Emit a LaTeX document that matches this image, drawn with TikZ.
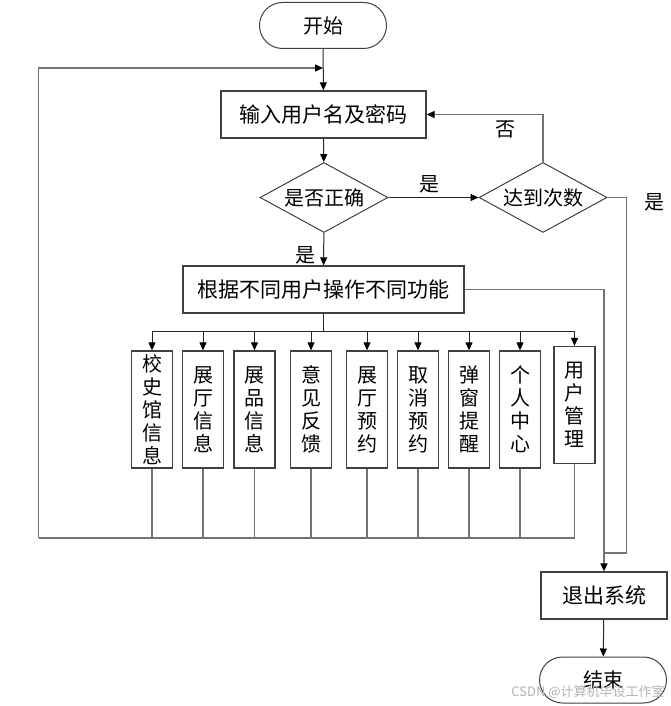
\documentclass[tikz,border=0pt]{standalone}
\usepackage{fontspec}
\setmainfont{Noto Sans CJK SC}
\usetikzlibrary{arrows.meta,shapes.geometric,shapes.misc}

\begin{document}
\begin{tikzpicture}[x=1pt,y=-1pt,
        font=\fontsize{20}{23}\selectfont,
        line/.style={draw=black!85,line width=1pt},
        arr/.style={line,-{Triangle[length=8pt,width=7pt,color=black]}},
        back/.style={draw=black!55,line width=1.4pt},
        backarr/.style={back,-{Triangle[length=8pt,width=7pt,color=black]}},
        term/.style={draw=black!75,line width=1pt,rounded rectangle,
            minimum width=127pt,minimum height=46pt,inner sep=0pt},
        proc/.style={draw=black!75,line width=1.3pt,rectangle,
            minimum height=47pt,inner sep=0pt},
        cond/.style={draw=black!75,line width=1pt,diamond,aspect=1.8,
            minimum width=128pt,minimum height=70pt,inner sep=0pt},
        func/.style={draw=black!75,line width=1.3pt,rectangle,
            minimum width=41pt,minimum height=117pt,inner sep=0pt,align=center}]

    \useasboundingbox (0,0) rectangle (671,706);

    % main column
    \node[term] (start) at (323,25.5) {开始};
    \node[proc,minimum width=205pt,font=\fontsize{21}{23}\selectfont] (input) at (323.5,114.5) {输入用户名及密码};
    \node[cond] (check) at (324,197.5) {是否正确};
    \node[cond] (count) at (543,197.5) {达到次数};
    \node[proc,minimum width=281pt,font=\fontsize{21}{23}\selectfont] (role) at (323.5,289.5) {根据不同用户操作不同功能};

    % function boxes
    \foreach \i/\x/\y/\txt in {1/152/409.5/校\\史\\馆\\信\\息,
                               2/203/409.5/展\\厅\\信\\息,
                               3/254.5/409.5/展\\品\\信\\息,
                               4/311/409.5/意\\见\\反\\馈,
                               5/367/409.5/展\\厅\\预\\约,
                               6/418/409.5/取\\消\\预\\约,
                               7/469/409.5/弹\\窗\\提\\醒,
                               8/520/409.5/个\\人\\中\\心,
                               9/574.5/405/用\\户\\管\\理}
        \node[func] (f\i) at (\x,\y) {\txt};

    \node[proc,minimum width=126pt,font=\fontsize{21}{23}\selectfont] (quit) at (604,595.5) {退出系统};
    \node[term] (stop) at (603,680) {结束};

    \coordinate (merge) at (323,68);
    \coordinate (fork) at (323.5,331);
    \coordinate (bus) at (38.5,538);
    \coordinate (join) at (604,553);

    % connectors
    \draw[arr] (start) -- (input);
    \draw[arr] (input) -- (check);
    \draw[arr] (check) -- node[pos=0.45,above=1pt] (yes1) {是} (count);
    \draw[arr] (check) -- node[pos=0.7,left=4pt] (yes2) {是} (role);
    \draw[backarr] (count.north) |- node[pos=0.66,below=2pt] (no1) {否} (input.east);
    \draw[back] (count.east) -- ++(19,0) node[right=14pt,yshift=-5pt] (yes3) {是}
        |- (join);
    \draw[backarr] (role.east) -| (quit.north);
    \draw[arr] (quit) -- (stop);

    % fan out to the functions and back
    \draw[line] (role) -- (fork);
    \draw[line] (f1.north |- fork) -- (f9.north |- fork);
    \foreach \i in {1,...,9}{
        \draw[arr] (f\i.north |- fork) -- (f\i.north);
        \draw[back] (f\i.south) -- (f\i.south |- bus);
    }
    \draw[back] (f9.south |- bus) -- (bus);
    \draw[backarr] (bus) |- (merge);

    \node[text=black!30,font=\fontsize{13}{13}\selectfont] (mark) at (588,692) {CSDN @计算机毕设工作室};
\end{tikzpicture}
\end{document}
